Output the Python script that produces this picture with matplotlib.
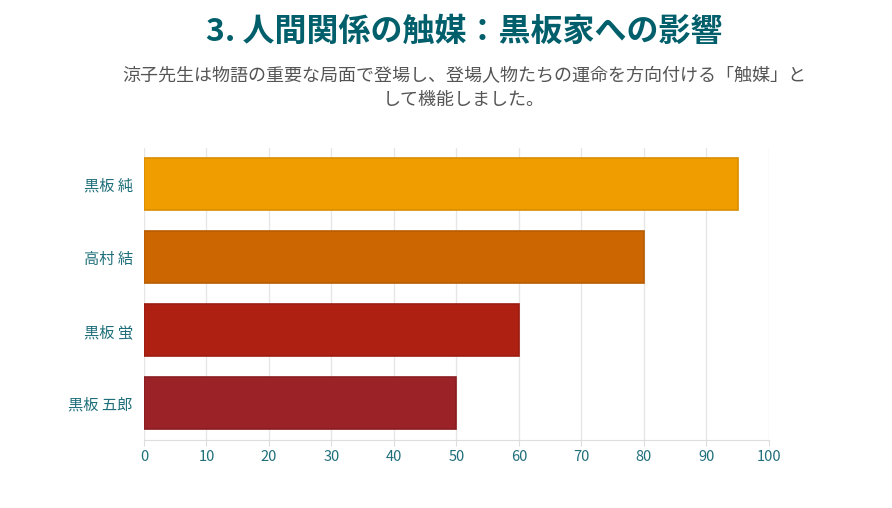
import matplotlib
matplotlib.use("Agg")
import matplotlib.pyplot as plt

plt.rcParams["font.family"] = "Noto Sans CJK JP"

names = ["黒板 純", "高村 結", "黒板 蛍", "黒板 五郎"]
values = [95, 80, 60, 50]
colors = ["#F09D00", "#CC6600", "#AE2012", "#9B2226"]
edges = ["#D98E00", "#B85C00", "#9C1C10", "#8A1E22"]
xticks = list(range(0, 101, 10))

fig = plt.figure(figsize=(8.92, 5.08), dpi=100)
ax = fig.add_axes([0.1614, 0.134, 0.7006, 0.575])
y = list(range(len(names)))
ax.barh(y, values, height=0.71, color=colors, edgecolor=edges, linewidth=1.2, zorder=3)
ax.set_yticks(y)
ax.set_yticklabels(names)
ax.set_ylim(3.5, -0.5)
ax.set_xlim(0, 100)
ax.set_xticks(xticks)
ax.grid(axis="x", color="#e6e6e6", linewidth=1, zorder=0)
for s in ["top", "right", "left"]:
    ax.spines[s].set_visible(False)
ax.spines["bottom"].set_color("#dddddd")
ax.tick_params(axis="y", length=0, pad=8, labelsize=11, labelcolor="#1f6f7a")
ax.tick_params(axis="x", length=4, color="#dddddd", labelsize=10.5, labelcolor="#1f6f7a")

fig.text(0.52, 0.938, "3. 人間関係の触媒：黒板家への影響", ha="center", va="center",
         fontsize=23, fontweight="bold", color="#005F6B")
fig.text(0.52, 0.826, "涼子先生は物語の重要な局面で登場し、登場人物たちの運命を方向付ける「触媒」と\nして機能しました。",
         ha="center", va="center", fontsize=13, color="#555555", linespacing=1.4)
fig.savefig("out.png", dpi=100)
